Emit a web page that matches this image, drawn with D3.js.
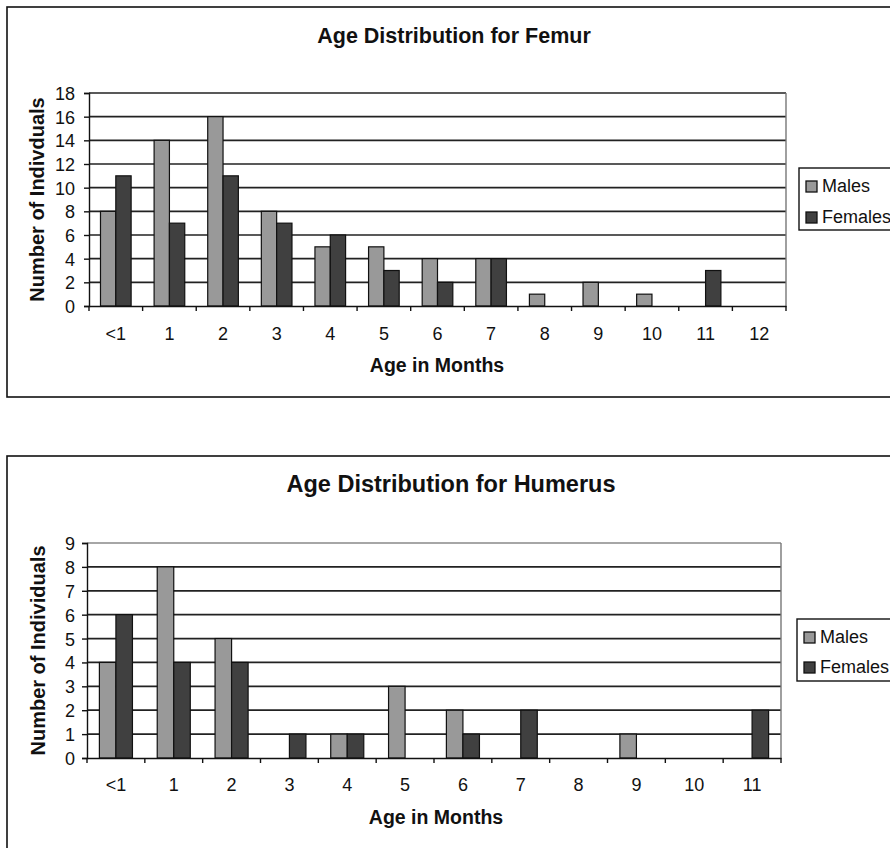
<!DOCTYPE html>
<html><head><meta charset="utf-8">
<script src="https://cdn.jsdelivr.net/npm/d3@7"></script>
<style>body{margin:0;background:#fff;} svg{display:block;font-family:"Liberation Sans",Arial,sans-serif;}</style>
</head><body>
<svg id="c" width="890" height="848"></svg>
<script>
const femurCategories = ["<1","1","2","3","4","5","6","7","8","9","10","11","12"];
const femurMales   = [8,14,16,8,5,5,4,4,1,2,1,0,0];
const femurFemales = [11,7,11,7,6,3,2,4,0,0,0,3,0];
const femurTicks = [0,2,4,6,8,10,12,14,16,18];

const humerusCategories = ["<1","1","2","3","4","5","6","7","8","9","10","11"];
const humerusMales   = [4,8,5,0,1,3,2,0,0,1,0,0];
const humerusFemales = [6,4,4,1,1,0,1,2,0,0,0,2];
const humerusTicks = [0,1,2,3,4,5,6,7,8,9];

const seriesNames = ["Males","Females"];
const seriesColors = ["#999999","#404040"];

const svg = d3.select("#c");
const FF = "Liberation Sans, Arial, sans-serif";

function drawChart(o){
  const g = svg.append("g");
  g.append("rect").attr("x",o.frame[0]).attr("y",o.frame[1]).attr("width",o.frame[2]).attr("height",o.frame[3])
    .attr("fill","#fff").attr("stroke","#111").attr("stroke-width",1.6);
  g.append("text").attr("x",o.titleX).attr("y",o.titleY).attr("text-anchor","middle")
    .attr("font-weight","bold").attr("font-size",o.titleSize).attr("fill","#111").text(o.title);

  const x = d3.scaleBand().domain(o.cats).range([o.x0,o.x1]);
  const y = d3.scaleLinear().domain([0,d3.max(o.ticks)]).range([o.y0,o.y1]);
  const bw = x.bandwidth()/3.5;

  g.append("g").selectAll("line").data(o.ticks.slice(1)).join("line")
    .attr("x1",o.x0).attr("x2",o.x1).attr("y1",d=>y(d)).attr("y2",d=>y(d))
    .attr("stroke",(d,i)=> (i===o.ticks.length-2 && o.lightTop)?"#888":"#222").attr("stroke-width",1.7);
  g.append("line").attr("x1",o.x1).attr("x2",o.x1).attr("y1",y(d3.max(o.ticks))).attr("y2",o.y0)
    .attr("stroke","#777").attr("stroke-width",1.4);

  [o.males,o.females].forEach((vals,si)=>{
    g.append("g").selectAll("rect").data(vals.map((v,i)=>({c:o.cats[i],v}))).join("rect")
      .filter(d=>d.v>0)
      .attr("x",d=>x(d.c)+0.75*bw+si*bw).attr("width",bw)
      .attr("y",d=>y(d.v)).attr("height",d=>y(0)-y(d.v))
      .attr("fill",seriesColors[si]).attr("stroke","#111").attr("stroke-width",1.2);
  });

  const ya = g.append("g").attr("transform",`translate(${o.x0},0)`)
    .call(d3.axisLeft(y).tickValues(o.ticks).tickSize(5).tickPadding(o.yPad).tickFormat(d3.format("d")));
  ya.select(".domain").attr("stroke","#111").attr("stroke-width",1.4);
  ya.selectAll(".tick line").attr("stroke","#111").attr("stroke-width",1.4);
  ya.selectAll("text").attr("font-size",o.tickSize).attr("fill","#111").attr("font-family",FF).attr("dy","0.36em");

  const xa = g.append("g").attr("transform",`translate(0,${o.y0})`)
    .call(d3.axisBottom(x).tickSize(0).tickPadding(0));
  xa.select(".domain").attr("stroke","#111").attr("stroke-width",1.4);
  xa.selectAll("text").attr("font-size",o.tickSize).attr("fill","#111").attr("font-family",FF)
    .attr("y",o.xLabelDy).attr("dy",0);
  const bounds = o.cats.map(c=>x(c)).concat([o.x1]);
  g.append("g").selectAll("line").data(bounds).join("line")
    .attr("x1",d=>d).attr("x2",d=>d).attr("y1",o.y0).attr("y2",o.y0+5)
    .attr("stroke","#111").attr("stroke-width",1.4);

  g.append("text").attr("x",o.xTitleX).attr("y",o.xTitleY).attr("text-anchor","middle")
    .attr("font-weight","bold").attr("font-size",o.axisTitleSize).attr("fill","#111").text("Age in Months");
  g.append("text").attr("transform",`translate(${o.yTitleX},${(o.y0+o.y1)/2}) rotate(-90)`).attr("text-anchor","middle")
    .attr("font-weight","bold").attr("font-size",o.yTitleSize).attr("fill","#111").text(o.yTitle);

  g.append("rect").attr("x",o.legX).attr("y",o.legY).attr("width",130).attr("height",62)
    .attr("fill","#fff").attr("stroke","#111").attr("stroke-width",1.4);
  seriesNames.forEach((n,i)=>{
    const base = o.legY + 24 + i*o.legGap;
    g.append("rect").attr("x",o.legX+7).attr("y",base-11).attr("width",11).attr("height",11)
      .attr("fill",seriesColors[i]).attr("stroke","#111").attr("stroke-width",1.3);
    g.append("text").attr("x",o.legX+23).attr("y",base).attr("font-size",18).attr("fill","#111").text(n);
  });
}

drawChart({
  frame:[7,7,900,390], title:"Age Distribution for Femur", titleX:454, titleY:43, titleSize:21.5,
  cats:femurCategories, males:femurMales, females:femurFemales, ticks:femurTicks,
  x0:89, x1:786, y0:306, y1:93, tickSize:18, yPad:9, xLabelDy:34,
  xTitleX:437, xTitleY:372, axisTitleSize:19.5, yTitle:"Number of Indivduals", yTitleX:44, yTitleSize:20,
  legX:799, legY:168, legGap:31, lightTop:false
});
drawChart({
  frame:[7,456,900,420], title:"Age Distribution for Humerus", titleX:451, titleY:492, titleSize:23.5,
  cats:humerusCategories, males:humerusMales, females:humerusFemales, ticks:humerusTicks,
  x0:87, x1:781, y0:758, y1:543, tickSize:18, yPad:7, xLabelDy:33,
  xTitleX:436, xTitleY:824, axisTitleSize:19.5, yTitle:"Number of Individuals", yTitleX:45, yTitleSize:20,
  legX:797, legY:619, legGap:30, lightTop:true
});
</script>
</body></html>
